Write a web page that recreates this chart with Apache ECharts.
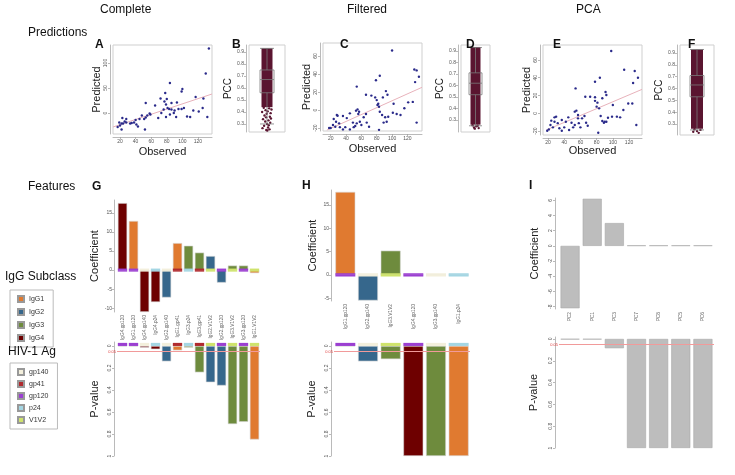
<!DOCTYPE html>
<html>
<head>
<meta charset="utf-8">
<script src="https://cdn.jsdelivr.net/npm/echarts@6.0.0/dist/echarts.min.js"></script>
<style>html,body{margin:0;padding:0;background:#fff;}#chart{width:735px;height:475px;}</style>
</head>
<body>
<div id="chart"></div>
<script>
// ---------------- DATA ----------------
// Panel A (Complete) observed vs predicted
const obsA  = [134,130,84,100,99,78,72,80,53,77,86,93,65,79,81,83,86,90,95,99,102,117,127,126,121,114,106,110,132,92,79,84,69,58,55,53,59,51,48,45,40,38,33,28,26,24,22,19,20,23,28,35,41,43,52,22,17,73,89,76];
const predA = [129,79,60,48,43,40,29,28,20,23,20,21,15,17,10,8,7,5,8,8,10,32,29,10,3,5,-7,-8,-8,-8,-8,-3,-10,-1,-5,-9,-3,-12,-5,-12,-14,-19,-21,-19,-17,-21,-21,-19,-25,-10,-12,-20,-23,-27,-33,-33,-28,0,0,7];
const regObsA = [11,138], regPredA = [-28,38];
// Panel C (Filtered)
const obsC  = [100,129,132,135,84,79,130,92,94,54,66,73,78,88,80,82,81,83,102,121,127,116,101,106,111,95,91,87,84,93,89,83,132,70,60,58,63,66,57,55,53,56,45,41,36,28,29,24,23,26,20,18,32,36,39,45,50,52,54,67,49,31,27];
const predC = [66,45,44,37,38,33,31,21,17,26,17,16,14,14,11,7,5.5,3.7,7,8.5,9,2,-3,-4.4,-5.5,-7.4,-8,-5.5,-2,-13,-14,-22,-14,-18.5,-16.7,-13,-8,-4.4,-2,0.7,-0.7,-4.4,-3.7,-9,-6.7,-5.5,-6.3,-10,-16.7,-18.5,-20,-20,-19,-21.5,-19,-21.5,-19,-17.8,-14.8,-14,-14,-14.8,-13];
const regObsC = [15,139], regPredC = [-22.3,25.2];
// Panel E (PCA)
const obsE  = [98,114,127,131,84,78,125,54,91,92,66,72,78,87,78,81,80,83,100,119,124,113,99,105,109,94,90,87,85,92,89,82,129,69,60,58,62,65,57,55,53,57,45,42,37,30,28,24,23,26,21,19,34,37,40,46,51,53,67,49,32,28];
const predE = [70,49,47.5,40,40,35.5,34,28,24,20.6,18.7,18.7,18,17,14,12,7.5,5.6,9.4,11,11,3.7,-3.7,-3.7,-4.5,-4.9,-9.4,-8.6,-3,-9.4,-10.5,-21.7,-13,-14,-15.7,-11,-5.6,-3,-1.9,3,1.9,-5.6,-4.5,-9.4,-7.5,-3.7,-4.5,-8.2,-13,-15.7,-18,-19.5,-16.8,-19.5,-15.7,-18.7,-15.7,-13,-10.5,-10.5,-11,-9.4];
const regObsE = [18,136], regPredE = [-18.7,26.9];

// PCC distributions (B, D, F): box stats [min, Q1, median, Q3, max], dense range, sparse tail points
const pccBoxB = [0.30,0.56,0.67,0.75,0.93];
const pccDenseB = [0.44,0.93];
const tailJitterB = [-0.18,0.12,0.25,-0.08,0.04,-0.27,0.2,-0.02,-0.14,0.16,-0.05,0.22,-0.22,0.08,-0.1,0.18,0.0,0.1,-0.16,0.06,-0.25,0.14,-0.04,0.02];
const tailPccB    = [0.435,0.43,0.42,0.415,0.405,0.40,0.39,0.385,0.37,0.36,0.355,0.345,0.34,0.33,0.32,0.31,0.30,0.29,0.285,0.27,0.265,0.255,0.25,0.245];
const pccBoxD = [0.25,0.52,0.62,0.71,0.93];
const pccDenseD = [0.26,0.935];
const tailJitterD = [-0.2,0.15,0.05,-0.1,0.22,-0.05];
const tailPccD    = [0.255,0.25,0.245,0.235,0.23,0.225];
const pccBoxF = [0.25,0.53,0.63,0.71,0.93];
const pccDenseF = [0.26,0.93];
const tailJitterF = [-0.15,0.2,0.0,-0.22,0.1];
const tailPccF    = [0.255,0.25,0.24,0.235,0.225];

// Feature panels
const gFeatures = ['IgG4.gp120','IgG1.gp120','IgG4.gp140','IgG4.p24','IgG2.gp140','IgG1.gp41','IgG3.p24','IgG3.gp41','IgG2.V1V2','IgG2.gp120','IgG3.V1V2','IgG3.gp120','IgG1.V1V2'];
const gCoef = [17.6,12.9,-11,-8.4,-7.2,7.1,6.4,4.6,3.7,-3.3,1.2,1.2,-0.8];
const gPval = [0.005,0.005,0.015,0.03,0.14,0.04,0.015,0.24,0.33,0.36,0.71,0.69,0.85];
const hFeatures = ['IgG1.gp120','IgG2.gp140','IgG3.V1V2','IgG4.gp120','IgG3.gp140','IgG1.p24'];
const hCoef = [17.8,-5.5,5.2,0,0,0];
const hPval = [0.004,0.14,0.12,1,1,1];
const iFeatures = ['PC2','PC1','PC3','PC7','PC8','PC5','PC6'];
const iCoef = [-8.2,6.2,3.0,0.06,0.06,0.06,0.06];
const iPval = [0.004,0.004,0.085,1,1,1,1];
const pThreshold = 0.05;

const legendSubclass = ['IgG1','IgG2','IgG3','IgG4'];
const legendAntigen = ['gp140','gp41','gp120','p24','V1V2'];

// tick labels
const ticksObs = [20,40,60,80,100,120];
const ticksPredA = [0,50,100];
const ticksPredCE = [-20,0,20,40,60];
const ticksPCC = [0.3,0.4,0.5,0.6,0.7,0.8,0.9];
const ticksCoefG = [-10,-5,0,5,10,15];
const ticksCoefH = [-5,0,5,10,15];
const ticksCoefI = [-8,-6,-4,-2,0,2,4,6];
const ticksP = [0,0.2,0.4,0.6,0.8,1];

// ---------------- STYLE ----------------
const FONT = "'Liberation Sans', Arial, Helvetica, sans-serif";
const PT = '#2a2a8a', LINE = '#e8b2bb', CLOUD = '#5a1530';
const subclassColor = {IgG1:'#E07A30', IgG2:'#36678C', IgG3:'#6E8B3D', IgG4:'#6E0000'};
const antigenColor = {gp140:'#F3EFDC', gp41:'#B02A2E', gp120:'#9B3FD1', p24:'#A4D6E3', V1V2:'#CFE36C'};

const grids = [], xAxes = [], yAxes = [], series = [];

function valueAxis(gi, min, max, ticks, rot, offset, extra) {
  return Object.assign({
    gridIndex: gi, type: 'value', min: min, max: max, offset: offset,
    splitLine: {show: false},
    axisLine: {show: true, onZero: false, lineStyle: {color: '#9c9c9c', width: 0.7}},
    axisTick: {show: true, length: 2, customValues: ticks, lineStyle: {color: '#9c9c9c', width: 0.7}},
    axisLabel: {customValues: ticks, fontSize: 5, color: '#555', margin: 2, rotate: rot, fontFamily: FONT}
  }, extra || {});
}
function nameStyle(size) { return {fontSize: size, color: '#222', fontFamily: FONT}; }

function scatterPanel(box, xr, yr, xt, yt, obs, pred, regX, regY, xGap, yGap) {
  const gi = grids.push({left: box[0], top: box[1], width: box[2], height: box[3], show: true, borderColor: '#cfcfcf', borderWidth: 1}) - 1;
  const xi = xAxes.push(valueAxis(gi, xr[0], xr[1], xt, 0, 3, {position: 'bottom', name: 'Observed', nameLocation: 'middle', nameGap: xGap, nameTextStyle: nameStyle(11)})) - 1;
  const yi = yAxes.push(valueAxis(gi, yr[0], yr[1], yt, 90, 3, {position: 'left', name: 'Predicted', nameLocation: 'middle', nameGap: yGap, nameTextStyle: nameStyle(11)})) - 1;
  series.push({type: 'line', xAxisIndex: xi, yAxisIndex: yi, data: regX.map((x, i) => [x, regY[i]]), symbol: 'none', lineStyle: {color: LINE, width: 1}, silent: true, z: 1});
  series.push({type: 'scatter', xAxisIndex: xi, yAxisIndex: yi, data: obs.map((o, i) => [o, pred[i]]), symbolSize: 2.4, itemStyle: {color: PT, opacity: 1}, silent: true, z: 2});
}

function pccPanel(box, yr, dense, boxStats, tailX, tailY, cloudW, boxW, yGap) {
  const gi = grids.push({left: box[0], top: box[1], width: box[2], height: box[3], show: true, borderColor: '#cfcfcf', borderWidth: 1}) - 1;
  const xc = xAxes.push({gridIndex: gi, type: 'category', data: [''], show: false}) - 1;
  const xv = xAxes.push({gridIndex: gi, type: 'value', min: -1, max: 1, show: false}) - 1;
  const yi = yAxes.push(valueAxis(gi, yr[0], yr[1], ticksPCC, 0, 3, {position: 'left', name: 'PCC', nameLocation: 'middle', nameGap: yGap, nameTextStyle: nameStyle(10)})) - 1;
  series.push({type: 'bar', xAxisIndex: xc, yAxisIndex: yi, stack: 'cloud' + gi, data: [dense[0]], barWidth: cloudW, itemStyle: {color: 'rgba(0,0,0,0)'}, silent: true});
  series.push({type: 'bar', xAxisIndex: xc, yAxisIndex: yi, stack: 'cloud' + gi, data: [dense[1] - dense[0]], barWidth: cloudW, itemStyle: {color: CLOUD}, silent: true});
  series.push({type: 'scatter', xAxisIndex: xv, yAxisIndex: yi, data: tailX.map((x, i) => [x, tailY[i]]), symbolSize: 2.4, itemStyle: {color: CLOUD, opacity: 1}, silent: true});
  series.push({type: 'boxplot', xAxisIndex: xc, yAxisIndex: yi, data: [boxStats], boxWidth: [boxW, boxW], itemStyle: {color: 'rgba(0,0,0,0)', borderColor: '#7a7a7a', borderWidth: 0.8}, silent: true, z: 5});
}

function featurePanel(cfg) {
  // coefficient plot
  const gc = grids.push({left: cfg.left, top: cfg.coefTop, width: cfg.width, height: cfg.coefH}) - 1;
  const xc = xAxes.push({gridIndex: gc, type: 'category', data: cfg.feats, axisLine: {show: false}, axisTick: {show: false},
    axisLabel: {rotate: 90, fontSize: 4.8, color: '#666', margin: 3, interval: 0, fontFamily: FONT}}) - 1;
  const yc = yAxes.push(valueAxis(gc, cfg.coefRange[0], cfg.coefRange[1], cfg.coefTicks, cfg.coefRot, cfg.axOff,
    {name: 'Coefficient', nameLocation: 'middle', nameGap: cfg.gapC, nameTextStyle: nameStyle(11)})) - 1;
  series.push({type: 'bar', xAxisIndex: xc, yAxisIndex: yc, barCategoryGap: cfg.catGap, barGap: '-100%', silent: true,
    itemStyle: {borderColor: cfg.border, borderWidth: 0.6},
    data: cfg.coef.map((v, i) => ({value: v, itemStyle: {color: cfg.mainColor(cfg.feats[i])}}))});
  if (cfg.stripColor) {
    [1, -1].forEach(s => series.push({type: 'bar', xAxisIndex: xc, yAxisIndex: yc, barCategoryGap: cfg.catGap, barGap: '-100%', silent: true,
      data: cfg.feats.map(f => ({value: s * cfg.coefStrip, itemStyle: {color: cfg.stripColor(f)}}))}));
  }
  // p-value plot
  const gp = grids.push({left: cfg.left, top: cfg.pTop, width: cfg.width, height: cfg.pH}) - 1;
  const xp = xAxes.push({gridIndex: gp, type: 'category', data: cfg.feats, show: false}) - 1;
  const yp = yAxes.push(valueAxis(gp, cfg.pRange[0], cfg.pRange[1], ticksP, 90, cfg.axOff,
    {inverse: true, name: 'P-value', nameLocation: 'middle', nameGap: cfg.gapP, nameTextStyle: nameStyle(11)})) - 1;
  series.push({type: 'bar', xAxisIndex: xp, yAxisIndex: yp, barCategoryGap: cfg.catGap, barGap: '-100%', silent: true,
    itemStyle: {borderColor: cfg.border, borderWidth: 0.6},
    data: cfg.pval.map((v, i) => ({value: v, itemStyle: {color: cfg.mainColor(cfg.feats[i])}})),
    markLine: {silent: true, symbol: 'none', data: [{yAxis: pThreshold}],
      lineStyle: {color: '#f19a9a', width: 1, type: 'solid'},
      label: {show: true, position: 'start', formatter: String(pThreshold), fontSize: 4, color: '#e04040', distance: 1}}});
  if (cfg.stripColor) {
    series.push({type: 'bar', xAxisIndex: xp, yAxisIndex: yp, barCategoryGap: cfg.catGap, barGap: '-100%', silent: true,
      data: cfg.feats.map(f => ({value: -cfg.pStrip, itemStyle: {color: cfg.stripColor(f)}}))});
  }
}

// ---------------- BUILD ----------------
scatterPanel([113, 45, 99, 89], [11, 138], [-42, 136], ticksObs, ticksPredA, obsA, predA, regObsA, regPredA, 9, 7);
pccPanel([249, 45, 36, 87], [0.233, 0.958], pccDenseB, pccBoxB, tailJitterB, tailPccB, 11, 14, 8);
scatterPanel([323, 43, 99, 88], [10, 139], [-23.3, 74.4], ticksObs, ticksPredCE, obsC, predC, regObsC, regPredC, 9, 5);
pccPanel([461, 45, 29, 87], [0.196, 0.952], pccDenseD, pccBoxD, tailJitterD, tailPccD, 10, 13, 8);
scatterPanel([543, 45, 99, 90], [13.8, 136], [-24.3, 76.7], ticksObs, ticksPredCE, obsE, predE, regObsE, regPredE, 7, 7);
pccPanel([680, 45, 34, 90], [0.207, 0.968], pccDenseF, pccBoxF, tailJitterF, tailPccF, 12, 14, 8);

const subOf = f => subclassColor[f.split('.')[0]];
const agOf = f => antigenColor[f.split('.')[1]];
featurePanel({left: 117, width: 143, coefTop: 200, coefH: 112, coefRange: [-11, 18.4], coefTicks: ticksCoefG, coefRot: 0,
  pTop: 342, pH: 114, pRange: [-0.036, 1], axOff: 3, gapC: 12, gapP: 14, catGap: '15%',
  feats: gFeatures, coef: gCoef, pval: gPval, mainColor: subOf, stripColor: agOf, border: '#d9d9d9', coefStrip: 0.4, pStrip: 0.028});
featurePanel({left: 334, width: 136, coefTop: 190, coefH: 111, coefRange: [-5.6, 18.2], coefTicks: ticksCoefH, coefRot: 0,
  pTop: 342, pH: 114, pRange: [-0.036, 1], axOff: 3, gapC: 13, gapP: 14, catGap: '12%',
  feats: hFeatures, coef: hCoef, pval: hPval, mainColor: subOf, stripColor: agOf, border: '#d9d9d9', coefStrip: 0.35, pStrip: 0.028});
featurePanel({left: 559, width: 155, coefTop: 198, coefH: 111, coefRange: [-8.3, 6.3], coefTicks: ticksCoefI, coefRot: 90,
  pTop: 337, pH: 111, pRange: [-0.018, 1], axOff: 4, gapC: 15, gapP: 16, catGap: '14%',
  feats: iFeatures, coef: iCoef, pval: iPval, mainColor: () => '#bdbdbd', stripColor: null, border: '#a8a8a8'});

// legend-only series
legendSubclass.forEach(n => series.push({type: 'scatter', name: n, data: [], xAxisIndex: 0, yAxisIndex: 0, itemStyle: {color: subclassColor[n], opacity: 1, borderColor: '#999', borderWidth: 0.5}}));
legendAntigen.forEach(n => series.push({type: 'scatter', name: n, data: [], xAxisIndex: 0, yAxisIndex: 0, itemStyle: {color: antigenColor[n], opacity: 1, borderColor: '#999', borderWidth: 0.5}}));

function T(text, left, top, size, bold) {
  return {text: text, left: left, top: top, padding: 0, textStyle: {fontSize: size, fontWeight: bold ? 'bold' : 'normal', color: '#111', fontFamily: FONT}};
}
const titles = [
  T('Complete', 100, 4, 12), T('Filtered', 347, 4, 12), T('PCA', 576, 4, 12),
  T('Predictions', 28, 27, 12), T('Features', 28, 181, 12),
  T('A', 95, 39, 12, true), T('B', 232, 39, 12, true), T('C', 340, 39, 12, true),
  T('D', 466, 39, 12, true), T('E', 553, 39, 12, true), T('F', 688, 39, 12, true),
  T('G', 92, 181, 12, true), T('H', 302, 180, 12, true), T('I', 529, 180, 12, true),
  T('IgG Subclass', 5, 271, 12), T('HIV-1 Ag', 8, 346, 12)
];

const legendBase = {orient: 'vertical', icon: 'rect', itemWidth: 6, itemHeight: 6, itemGap: 5, selectedMode: false,
  itemStyle: {opacity: 1},
  textStyle: {fontSize: 7, color: '#333', fontFamily: FONT}, borderColor: '#bbbbbb', borderWidth: 1, padding: [5, 9, 5, 7]};

const chart = echarts.init(document.getElementById('chart'), null, {renderer: 'canvas'});
chart.setOption({
  animation: false,
  backgroundColor: '#fff',
  title: titles,
  legend: [
    Object.assign({}, legendBase, {data: legendSubclass, left: 10, top: 290}),
    Object.assign({}, legendBase, {data: legendAntigen, left: 10, top: 363, itemGap: 4})
  ],
  grid: grids,
  xAxis: xAxes,
  yAxis: yAxes,
  series: series
});
</script>
</body>
</html>
